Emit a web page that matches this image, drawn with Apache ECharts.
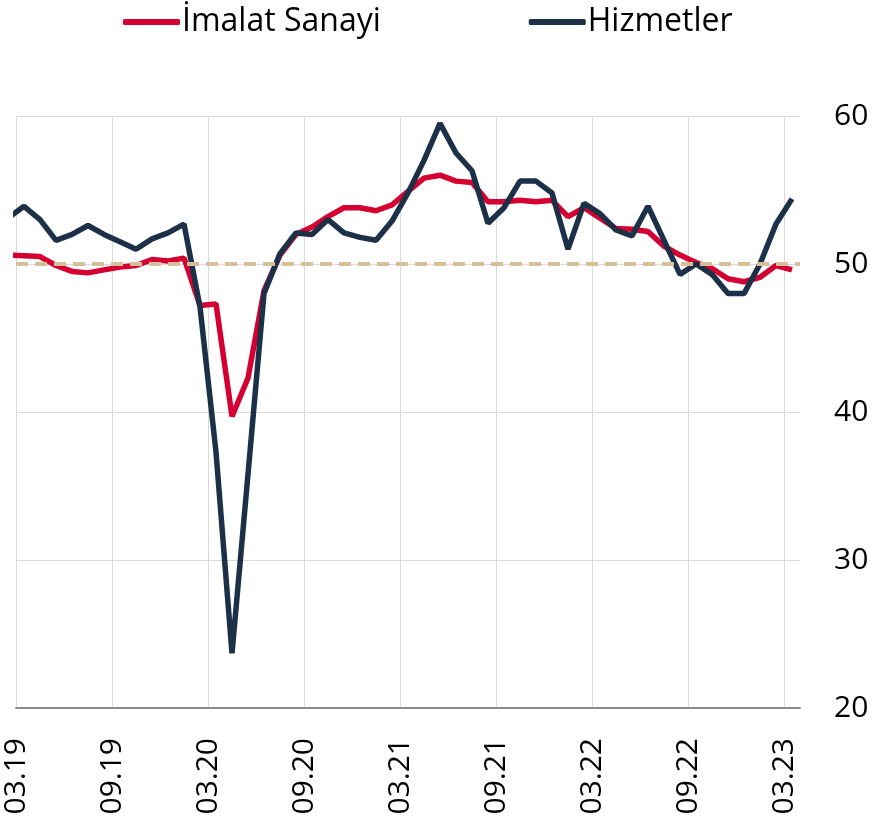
<!DOCTYPE html>
<html>
<head>
<meta charset="utf-8">
<script src="https://cdn.jsdelivr.net/npm/echarts@6/dist/echarts.min.js"></script>
<style>
  html, body { margin: 0; padding: 0; background: #fff; }
  #container { width: 873px; height: 819px; }
</style>
</head>
<body>
<div id="container"></div>
<script>
// months, first one (02.19) sits just left of the axis and is clipped
const months = [
  '02.19', '03.19', '04.19', '05.19', '06.19', '07.19', '08.19', '09.19', '10.19', '11.19', '12.19',
  '01.20', '02.20', '03.20', '04.20', '05.20', '06.20', '07.20', '08.20', '09.20', '10.20', '11.20', '12.20',
  '01.21', '02.21', '03.21', '04.21', '05.21', '06.21', '07.21', '08.21', '09.21', '10.21', '11.21', '12.21',
  '01.22', '02.22', '03.22', '04.22', '05.22', '06.22', '07.22', '08.22', '09.22', '10.22', '11.22', '12.22',
  '01.23', '02.23', '03.23'
]
const xTickLabels = ['03.19', '09.19', '03.20', '09.20', '03.21', '09.21', '03.22', '09.22', '03.23']
const yTicks = [20, 30, 40, 50, 60]

const imalat = [
  50.6, 50.55, 50.5, 49.9, 49.5, 49.4, 49.6, 49.8, 49.9, 50.3, 50.2, 50.4,
  47.2, 47.3, 39.7, 42.3, 48.2, 50.6, 52.0, 52.5, 53.2, 53.8, 53.8, 53.6,
  54.0, 54.9, 55.8, 56.0, 55.6, 55.5, 54.2, 54.2, 54.3, 54.2, 54.3, 53.2,
  53.8, 53.1, 52.4, 52.35, 52.2, 51.2, 50.6, 50.1, 49.7, 49.0, 48.8, 49.1,
  49.9, 49.6
]
const hizmetler = [
  53.1, 53.9, 53.0, 51.6, 52.0, 52.6, 52.0, 51.5, 51.0, 51.7, 52.1, 52.7,
  47.1, 37.3, 23.7, 35.8, 48.0, 50.7, 52.1, 52.0, 53.0, 52.1, 51.8, 51.6,
  52.9, 54.8, 57.0, 59.5, 57.5, 56.3, 52.75, 53.8, 55.6, 55.6, 54.8, 51.0,
  54.1, 53.4, 52.3, 51.9, 53.9, 51.6, 49.3, 50.0, 49.3, 48.0, 48.0, 50.0,
  52.7, 54.4
]
const threshold = 50

// each month sits in the middle of its band: 03.19 -> 0.5
const toPoints = arr => arr.map((v, i) => [i - 0.5, v])

const font = '"Open Sans", "Noto Sans", sans-serif'

const option = {
  animation: false,
  textStyle: { fontFamily: font },
  legend: {
    data: ['İmalat Sanayi', 'Hizmetler'],
    left: 123,
    top: 6,
    padding: 0,
    itemWidth: 57,
    itemHeight: 6,
    itemGap: 148,
    icon: 'roundRect',
    textStyle: { fontSize: 32, color: '#000', fontFamily: font, padding: [0, 0, 0, -3] }
  },
  grid: {
    left: 16,
    right: 73,
    top: 116,
    bottom: 111
  },
  xAxis: {
    type: 'value',
    min: 0,
    max: 49,
    interval: 6,
    axisLine: { show: true, onZero: false, lineStyle: { color: '#8c8c8c', width: 2 } },
    axisTick: { show: false },
    axisLabel: {
      rotate: 90,
      fontSize: 30,
      color: '#000',
      margin: 30,
      showMaxLabel: false,
      formatter: v => xTickLabels[v / 6] || ''
    },
    splitLine: { show: true, showMaxLine: false, lineStyle: { color: '#d9d9d9', width: 1 } }
  },
  yAxis: {
    type: 'value',
    position: 'right',
    min: yTicks[0],
    max: yTicks[yTicks.length - 1],
    interval: 10,
    axisLine: { show: false },
    axisTick: { show: false },
    axisLabel: { fontSize: 30, color: '#000', margin: 34 },
    splitLine: { lineStyle: { color: '#d9d9d9', width: 1 } }
  },
  series: [
    {
      name: 'İmalat Sanayi',
      type: 'line',
      data: toPoints(imalat),
      symbol: 'none',
      z: 2,
      color: '#d50032',
      lineStyle: { width: 5.5, color: '#d50032' }
    },
    {
      name: 'esik',
      type: 'line',
      data: [],
      z: 3,
      markLine: {
        silent: true,
        symbol: 'none',
        label: { show: false },
        lineStyle: { color: '#d5c09a', type: [12, 7], width: 4 },
        data: [{ yAxis: threshold }]
      }
    },
    {
      name: 'Hizmetler',
      type: 'line',
      data: toPoints(hizmetler),
      symbol: 'none',
      z: 4,
      color: '#1c3047',
      lineStyle: { width: 5.5, color: '#1c3047' }
    }
  ]
}

const chart = echarts.init(document.getElementById('container'))
chart.setOption(option)
window.addEventListener('resize', () => {
  chart.resize()
})
</script>
</body>
</html>
